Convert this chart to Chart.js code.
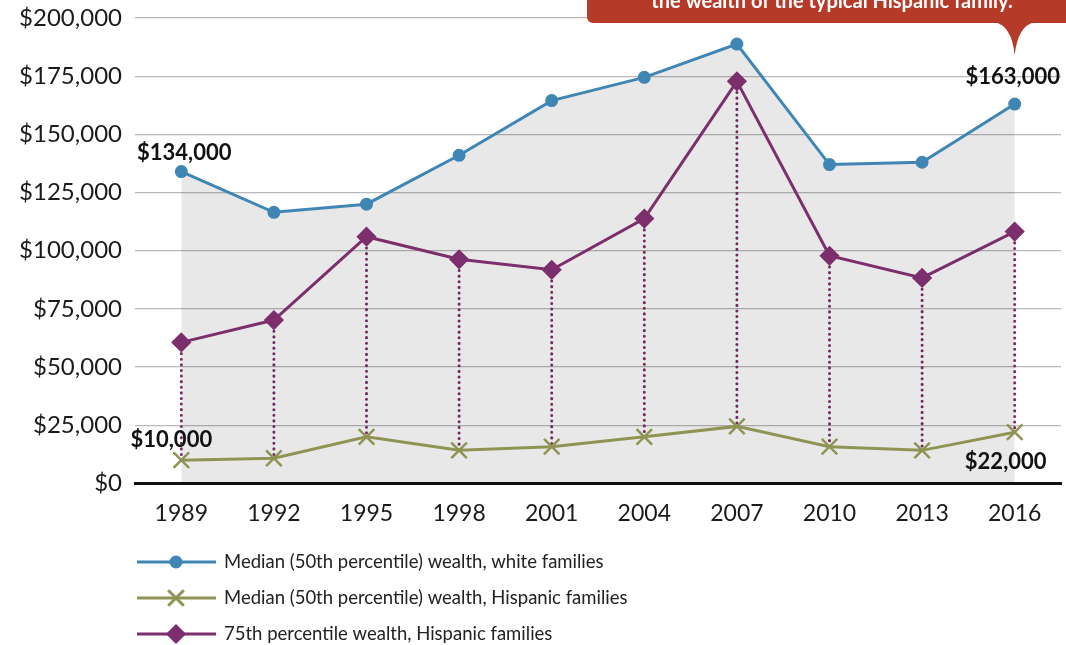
<!DOCTYPE html>
<html>
<head>
<meta charset="utf-8">
<script src="https://cdn.jsdelivr.net/npm/chart.js@4.4.1/dist/chart.umd.min.js"></script>
<style>
    html, body { margin: 0; padding: 0; background: #fff; }
    #wrap { position: relative; width: 1066px; height: 645px; }
</style>
</head>
<body>
<div id="wrap"><canvas id="chart-riqueza"></canvas></div>
<script>
// ============================================
// DATOS
// ============================================

const years = ['1989', '1992', '1995', '1998', '2001', '2004', '2007', '2010', '2013', '2016'];
const whiteMedian = [134000, 116500, 120000, 141000, 164500, 174500, 188800, 137000, 138000, 163000];
const hispanicMedian = [10000, 10800, 20000, 14200, 15800, 20000, 24500, 15800, 14200, 22000];
const hispanic75 = [60600, 70200, 106000, 96300, 91800, 113800, 172800, 97800, 88300, 108200];
const yTicks = [0, 25000, 50000, 75000, 100000, 125000, 150000, 175000, 200000];

const seriesNames = [
    'Median (50th percentile) wealth, white families',
    'Median (50th percentile) wealth, Hispanic families',
    '75th percentile wealth, Hispanic families'
];
const calloutText = 'the wealth of the typical Hispanic family.';

// ============================================
// COLORES
// ============================================

const colors = {
    white: '#3f86b4',
    hispanic: '#8f9455',
    p75: '#7c2f6c',
    fill: 'rgba(0, 0, 0, 0.09)',
    grid: '#b9b9b9',
    text: '#1a1a1a',
    callout: '#b53a28'
};

const FONT = "Lato, 'Open Sans', sans-serif";

const fmt = v => '$' + v.toLocaleString('en-US');

// ============================================
// PLUGINS
// ============================================

// Líneas punteadas entre el percentil 75 y la mediana hispana
const dottedLinks = {
    id: 'dottedLinks',
    beforeDatasetsDraw(chart) {
        const { ctx, scales: { x, y } } = chart;
        ctx.save();
        ctx.strokeStyle = colors.p75;
        ctx.lineWidth = 3;
        ctx.setLineDash([0.1, 5.5]);
        ctx.lineCap = 'round';
        years.forEach((yr, i) => {
            const px = x.getPixelForValue(i);
            ctx.beginPath();
            ctx.moveTo(px, y.getPixelForValue(hispanic75[i]));
            ctx.lineTo(px, y.getPixelForValue(hispanicMedian[i]));
            ctx.stroke();
        });
        ctx.restore();
    }
};

// Etiquetas de valores, leyenda y globo
const extras = {
    id: 'extras',
    afterDraw(chart) {
        const { ctx, scales: { x, y } } = chart;
        const last = years.length - 1;
        ctx.save();

        // Etiquetas en negrita
        ctx.fillStyle = '#111';
        ctx.font = `bold 22px ${FONT}`;
        ctx.textAlign = 'center';
        ctx.textBaseline = 'middle';
        ctx.fillText(fmt(whiteMedian[0]), x.getPixelForValue(0) + 3, y.getPixelForValue(whiteMedian[0]) - 19);
        ctx.fillText(fmt(whiteMedian[last]), x.getPixelForValue(last) - 2, y.getPixelForValue(whiteMedian[last]) - 27);
        ctx.fillText(fmt(hispanicMedian[0]), x.getPixelForValue(0) - 10, y.getPixelForValue(hispanicMedian[0]) - 20);
        ctx.fillText(fmt(hispanicMedian[last]), x.getPixelForValue(last) - 9, y.getPixelForValue(hispanicMedian[last]) + 30);

        // Leyenda
        const sets = chart.data.datasets;
        const legendY = [562, 598, 634];
        sets.forEach((ds, i) => {
            const ly = legendY[i];
            ctx.strokeStyle = ds.borderColor;
            ctx.fillStyle = ds.borderColor;
            ctx.lineWidth = 3;
            ctx.setLineDash([]);
            ctx.beginPath();
            ctx.moveTo(137, ly);
            ctx.lineTo(216, ly);
            ctx.stroke();
            Chart.helpers.drawPoint(ctx, {
                pointStyle: ds.pointStyle,
                radius: ds.pointRadius,
                borderWidth: ds.pointBorderWidth || 1
            }, 176, ly);
            ctx.fillStyle = '#222';
            ctx.font = `18.5px ${FONT}`;
            ctx.textAlign = 'left';
            ctx.fillText(seriesNames[i], 224, ly);
        });

        // Globo rojo
        const tipX = x.getPixelForValue(last);
        ctx.fillStyle = colors.callout;
        ctx.beginPath();
        ctx.roundRect(587, -20, 500, 43, 6);
        ctx.fill();
        ctx.beginPath();
        ctx.moveTo(tipX - 20, 22);
        ctx.quadraticCurveTo(tipX - 3, 26, tipX, 55);
        ctx.quadraticCurveTo(tipX + 3, 26, tipX + 20, 22);
        ctx.closePath();
        ctx.fill();
        ctx.fillStyle = '#fff';
        ctx.font = `bold 20px ${FONT}`;
        ctx.textAlign = 'center';
        ctx.textBaseline = 'alphabetic';
        ctx.fillText(calloutText, 832, 8);

        ctx.restore();
    }
};

// ============================================
// GRÁFICO
// ============================================

const ctx = document.getElementById('chart-riqueza');

new Chart(ctx, {
    type: 'line',
    data: {
        labels: years,
        datasets: [{
            label: seriesNames[0],
            data: whiteMedian,
            borderColor: colors.white,
            backgroundColor: colors.fill,
            pointBackgroundColor: colors.white,
            pointBorderColor: colors.white,
            pointStyle: 'circle',
            pointRadius: 5,
            borderWidth: 3,
            fill: 'origin',
            tension: 0,
            order: 3
        }, {
            label: seriesNames[1],
            data: hispanicMedian,
            borderColor: colors.hispanic,
            backgroundColor: colors.hispanic,
            pointBorderColor: colors.hispanic,
            pointStyle: 'crossRot',
            pointRadius: 11,
            pointBorderWidth: 2.5,
            borderWidth: 3,
            fill: false,
            tension: 0,
            order: 2
        }, {
            label: seriesNames[2],
            data: hispanic75,
            borderColor: colors.p75,
            backgroundColor: colors.p75,
            pointBackgroundColor: colors.p75,
            pointBorderColor: colors.p75,
            pointStyle: 'rectRot',
            pointRadius: 8,
            borderWidth: 3,
            fill: false,
            tension: 0,
            order: 1
        }]
    },
    options: {
        responsive: true,
        maintainAspectRatio: false,
        animation: false,
        layout: {
            autoPadding: false,
            padding: { top: 18, right: 5, bottom: 110, left: 0 }
        },
        plugins: {
            legend: { display: false },
            tooltip: { enabled: false }
        },
        scales: {
            x: {
                offset: true,
                afterFit: axis => { axis.paddingLeft = 0; axis.paddingRight = 0; },
                grid: { display: false },
                border: { color: '#111', width: 3 },
                ticks: {
                    color: colors.text,
                    font: { family: FONT, size: 23 },
                    padding: 8,
                    maxRotation: 0
                }
            },
            y: {
                min: 0,
                max: 200000,
                afterBuildTicks: axis => { axis.ticks = yTicks.map(v => ({ value: v })); },
                afterFit: axis => { axis.width = 135; axis.paddingTop = 0; axis.paddingBottom = 0; },
                grid: {
                    color: colors.grid,
                    lineWidth: 1.2,
                    drawTicks: false
                },
                border: { display: false },
                ticks: {
                    color: colors.text,
                    font: { family: FONT, size: 24 },
                    padding: 13,
                    callback: v => fmt(v)
                }
            }
        }
    },
    plugins: [dottedLinks, extras]
});
</script>
</body>
</html>
